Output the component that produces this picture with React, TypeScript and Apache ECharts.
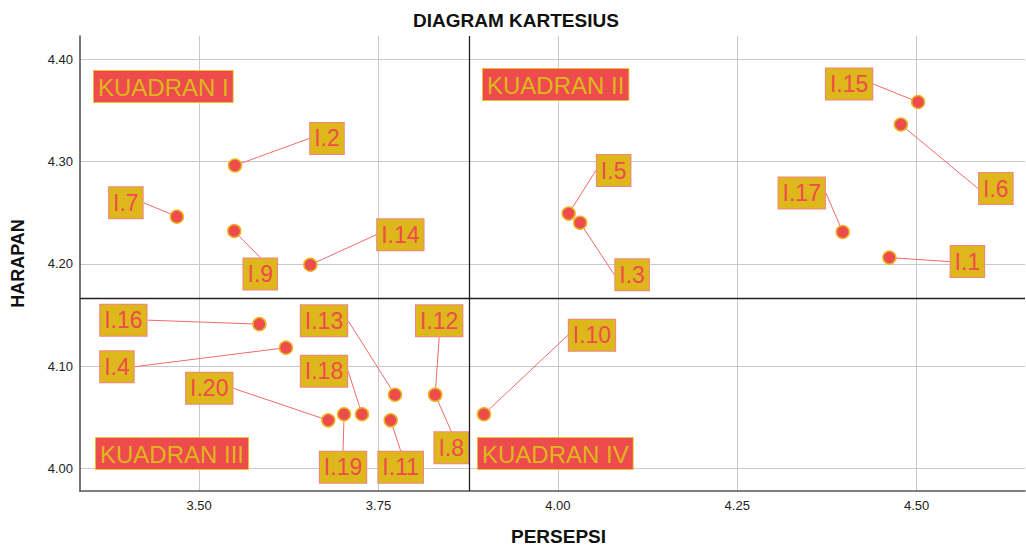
import React, { useEffect, useRef } from "react";
import * as echarts from "echarts";

// ---- data ----
const codes = ["I.1", "I.2", "I.3", "I.4", "I.5", "I.6", "I.7", "I.8", "I.9", "I.10",
  "I.11", "I.12", "I.13", "I.14", "I.15", "I.16", "I.17", "I.18", "I.19", "I.20"];
const persepsi = [4.462, 3.550, 4.031, 3.621, 4.015, 4.478, 3.469, 3.829, 3.549, 3.897,
  3.767, 3.829, 3.773, 3.655, 4.502, 3.584, 4.397, 3.727, 3.702, 3.680];
const harapan = [4.206, 4.296, 4.240, 4.118, 4.249, 4.336, 4.246, 4.072, 4.232, 4.053,
  4.047, 4.072, 4.072, 4.199, 4.358, 4.141, 4.231, 4.053, 4.053, 4.047];
const quadrantNames = ["KUADRAN I", "KUADRAN II", "KUADRAN III", "KUADRAN IV"];
const chartTitle = "DIAGRAM KARTESIUS";
const xName = "PERSEPSI";
const yName = "HARAPAN";

// ---- layout (pixel offsets of each label from its point) ----
const labelOffsets: [number, number][] = [
  [78, 4], [92, -27], [52, 52], [-169, 19], [45, -43], [95, 64], [-51, -14], [16, 53],
  [26, 43], [108, -79], [10, 47], [4, -74], [-71, -74], [90, -30], [-69, -18], [-136, -4],
  [-41, -39], [-38, -43], [-1, 53], [-119, -32],
];
const quadrantBoxes: [number, number][] = [[93, 70], [482, 68], [95, 437], [477, 437]];

const FONT = "'Liberation Sans', Arial, sans-serif";
const RED = "#EE4B4D";
const GOLD = "#DDB71B";

const mean = (a: number[]) => a.reduce((s, v) => s + v, 0) / a.length;

export default function App() {
  const ref = useRef<HTMLDivElement>(null);
  useEffect(() => {
    if (!ref.current) return;
    const chart = echarts.init(ref.current, null, { renderer: "svg" });
    const meanX = mean(persepsi);
    const meanY = mean(harapan);
    const data = codes.map((c, i) => ({ name: c, value: [persepsi[i], harapan[i]] }));
    chart.setOption({
      animation: false,
      backgroundColor: "#ffffff",
      title: {
        text: chartTitle,
        left: 413,
        top: 11,
        padding: 0,
        textStyle: { fontFamily: FONT, fontSize: 19, fontWeight: "bold", color: "#111" },
      },
      grid: { left: 80, top: 36, right: 1, bottom: 56, outerBoundsMode: "none" },
      xAxis: {
        type: "value",
        min: 3.334,
        max: 4.651,
        minInterval: 0.25,
        maxInterval: 0.25,
        name: xName,
        nameLocation: "middle",
        nameGap: 36,
        nameMoveOverlap: false,
        nameTextStyle: { fontFamily: FONT, fontSize: 19, fontWeight: "bold", color: "#111", padding: [0, 0, 0, 12] },
        axisLine: { show: true, onZero: false, lineStyle: { color: "#555", width: 1.6 } },
        axisTick: { show: false },
        axisLabel: {
          fontFamily: FONT, fontSize: 13, color: "#222", margin: 8,
          showMinLabel: false, showMaxLabel: false,
          formatter: (v: number) => v.toFixed(2),
        },
        splitLine: { show: true, showMinLine: false, showMaxLine: false, lineStyle: { color: "#c9c9c9", width: 1 } },
      },
      yAxis: {
        type: "value",
        min: 3.978,
        max: 4.4225,
        minInterval: 0.1,
        maxInterval: 0.1,
        name: yName,
        nameLocation: "middle",
        nameGap: 53,
        nameMoveOverlap: false,
        nameTextStyle: { fontFamily: FONT, fontSize: 18, fontWeight: "bold", color: "#111" },
        axisLine: { show: true, onZero: false, lineStyle: { color: "#555", width: 1.6 } },
        axisTick: { show: false },
        axisLabel: {
          fontFamily: FONT, fontSize: 13, color: "#222", margin: 7,
          showMinLabel: false, showMaxLabel: false,
          formatter: (v: number) => v.toFixed(2),
        },
        splitLine: { show: true, showMinLine: false, showMaxLine: false, lineStyle: { color: "#c9c9c9", width: 1 } },
      },
      series: [
        {
          type: "scatter",
          data,
          symbol: "circle",
          symbolSize: 13,
          itemStyle: { color: RED, borderColor: "#E9B624", borderWidth: 1.5, opacity: 1 },
          label: {
            show: true,
            position: "inside",
            formatter: (p: any) => p.name,
            fontFamily: FONT,
            fontSize: 23,
            lineHeight: 26,
            color: RED,
            backgroundColor: GOLD,
            borderColor: "#F08585",
            borderWidth: 1,
            padding: [3, 4, 2, 4],
            align: "center",
            verticalAlign: "middle",
          },
          labelLine: { show: true, smooth: false, lineStyle: { color: "#F26A6A", width: 1 } },
          labelLayout: (params: any) => {
            const o = labelOffsets[params.dataIndex];
            return { dx: o[0], dy: o[1] };
          },
          markLine: {
            silent: true,
            precision: 6,
            symbol: ["none", "none"],
            label: { show: false },
            lineStyle: { color: "#222", width: 1.3, type: "solid" },
            data: [{ xAxis: meanX }, { yAxis: meanY }],
          },
          z: 3,
        },
      ],
      graphic: quadrantNames.map((q, i) => ({
        type: "text",
        left: quadrantBoxes[i][0],
        top: quadrantBoxes[i][1],
        z: 10,
        style: {
          text: q,
          fontFamily: FONT,
          fontSize: 24,
          lineHeight: 26,
          fill: GOLD,
          backgroundColor: RED,
          borderColor: "#E8C030",
          borderWidth: 1,
          padding: [3, 4, 2, 4],
        },
      })),
    });
    return () => chart.dispose();
  }, []);
  return (
    <div
      ref={ref}
      style={{ position: "absolute", left: 0, top: 0, width: 1026, height: 547 }}
    />
  );
}
